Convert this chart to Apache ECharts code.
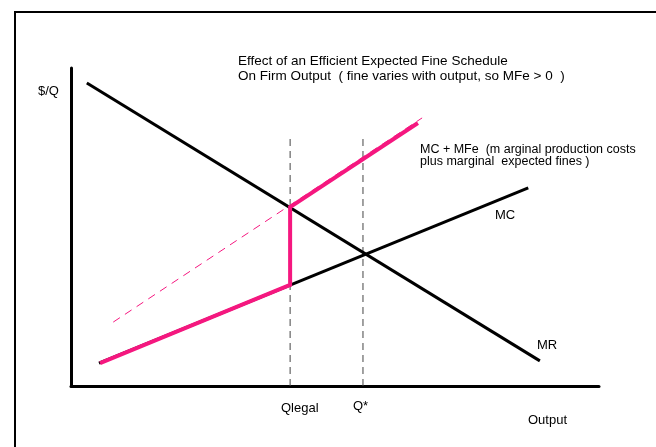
<!DOCTYPE html>
<html>
<head>
<meta charset="utf-8">
<script src="https://cdn.jsdelivr.net/npm/echarts@6/dist/echarts.min.js"></script>
<style>
  html, body { margin: 0; padding: 0; background: #fff; }
  #chart { width: 656px; height: 447px; }
</style>
</head>
<body>
<div id="chart"></div>
<script>
// curve points, in output / $ units (axes run 0..100)
const mrLine = [[3.0, 95.3], [88.8, 7.9]];
const mcLine = [[5.3, 7.2], [86.6, 62.3]];
const mcMfeLine = [[5.5, 7.2], [41.5, 31.8], [41.5, 56.3], [65.7, 82.7]];
const mfeDashed = [[8.0, 20.1], [66.5, 84.3]];
const qLegal = 41.5;
const qStar = 55.3;
const guideTop = 79.2;

const FONT = "'Liberation Sans', Arial, sans-serif";
const PINK = "#f5177f";

const chart = echarts.init(document.getElementById("chart"));

const txt = (left, top, text, size) => ({
  type: "text",
  left: left,
  top: top,
  style: { text: text, fill: "#000", font: size + "px " + FONT },
});

chart.setOption({
  animation: false,
  grid: { left: 71, right: 57, top: 68, bottom: 61 },
  xAxis: {
    type: "value",
    min: 0,
    max: 100,
    axisLine: { lineStyle: { color: "#000", width: 3 } },
    axisTick: { show: false },
    axisLabel: { show: false },
    splitLine: { show: false },
  },
  yAxis: {
    type: "value",
    min: 0,
    max: 100,
    axisLine: { show: true, lineStyle: { color: "#000", width: 3 } },
    axisTick: { show: false },
    axisLabel: { show: false },
    splitLine: { show: false },
  },
  graphic: [
    {
      type: "polyline",
      shape: { points: [[15, 460], [15, 12], [670, 12]] },
      style: { stroke: "#000", lineWidth: 2, fill: null },
    },
    txt(238, 54, "Effect of an Efficient Expected Fine Schedule", 13.5),
    txt(238, 69, "On Firm Output  ( fine varies with output, so MFe > 0  )", 13.5),
    txt(38, 85, "$/Q", 13),
    txt(420, 143, "MC + MFe  (m arginal production costs", 12.5),
    txt(420, 155, "plus marginal  expected fines )", 12.5),
    txt(495, 209, "MC", 13),
    txt(537, 339, "MR", 13),
    txt(281, 402, "Qlegal", 13),
    txt(353, 400, "Q*", 13),
    txt(528, 414, "Output", 13),
  ],
  series: [
    {
      type: "line",
      data: [[qLegal, 0], [qLegal, guideTop]],
      symbol: "none",
      lineStyle: { color: "#444", width: 1, type: [7, 5] },
    },
    {
      type: "line",
      data: [[qStar, 0], [qStar, guideTop]],
      symbol: "none",
      lineStyle: { color: "#444", width: 1, type: [7, 5] },
    },
    {
      type: "line",
      data: mrLine,
      symbol: "none",
      lineStyle: { color: "#000", width: 3 },
    },
    {
      type: "line",
      data: mcLine,
      symbol: "none",
      lineStyle: { color: "#000", width: 3 },
    },
    {
      type: "line",
      data: mfeDashed,
      symbol: "none",
      lineStyle: { color: PINK, width: 1, type: [8, 6] },
    },
    {
      type: "line",
      data: mcMfeLine,
      symbol: "none",
      lineStyle: { color: PINK, width: 4, join: "miter" },
    },
  ],
});
</script>
</body>
</html>
